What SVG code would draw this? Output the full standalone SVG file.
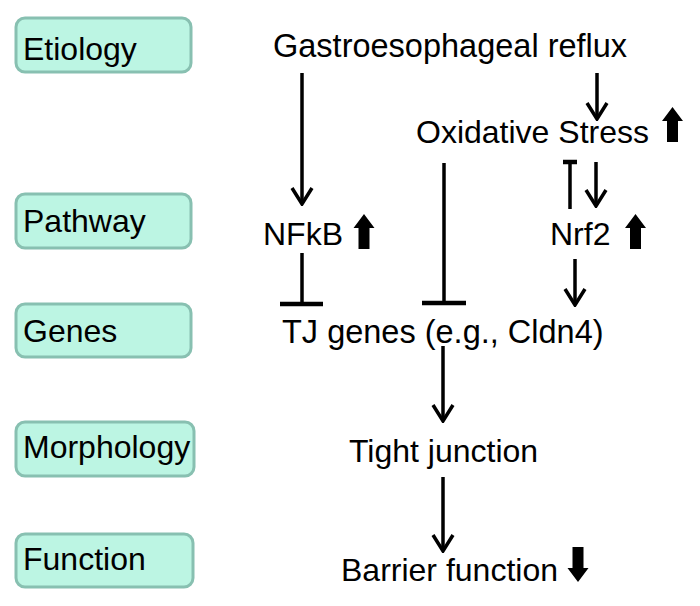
<svg xmlns="http://www.w3.org/2000/svg" width="700" height="606" viewBox="0 0 700 606">
<defs>
<style>
.box{fill:#bcf5e3;stroke:#88c0b1;stroke-width:3}
.t{font-family:"Liberation Sans",Arial,Helvetica,sans-serif;font-size:32px;fill:#000}
.ln{stroke:#000;stroke-width:3.5;fill:none}
.bar{stroke:#000;stroke-width:4.5;fill:none}
.blk{fill:#000}
</style>
<marker id="ah" viewBox="-18 -12 20 24" refX="0" refY="0" markerWidth="20" markerHeight="24" markerUnits="userSpaceOnUse" orient="auto">
<path d="M-16,-10 L0,0 L-16,10" fill="none" stroke="#000" stroke-width="3.5"/>
</marker>
</defs>
<rect width="700" height="606" fill="#fff"/>

<g id="etiology"><rect class="box" x="16" y="18" width="175" height="54" rx="9"/><text class="t" x="23" y="60">Etiology</text></g>
<g id="pathway"><rect class="box" x="16" y="194" width="175" height="54" rx="9"/><text class="t" x="23" y="232">Pathway</text></g>
<g id="genes"><rect class="box" x="16" y="304" width="175" height="53" rx="9"/><text class="t" x="23" y="342">Genes</text></g>
<g id="morphology"><rect class="box" x="16" y="422" width="178" height="54" rx="9"/><text class="t" x="23" y="458">Morphology</text></g>
<g id="function"><rect class="box" x="16" y="534" width="177" height="53" rx="9"/><text class="t" x="23" y="570">Function</text></g>

<g id="reflux"><text class="t" x="273" y="57" style="font-size:32.5px">Gastroesophageal reflux</text></g>
<g id="oxstress"><text class="t" x="416" y="143">Oxidative Stress</text>
<polygon class="blk" points="672.5,107 683,121 678,121 678,142 667,142 667,121 662,121"/></g>
<g id="nfkb"><text class="t" x="263" y="245">NFkB</text>
<polygon class="blk" points="364,214 374.5,228 369.5,228 369.5,249 358.5,249 358.5,228 353.5,228"/></g>
<g id="nrf2"><text class="t" x="550" y="245">Nrf2</text>
<polygon class="blk" points="635.5,214 646,228 641,228 641,249 630,249 630,228 625,228"/></g>
<g id="tjgenes"><text class="t" x="282" y="343" style="font-size:32.5px">TJ genes (e.g., Cldn4)</text></g>
<g id="tightjunction"><text class="t" x="349" y="462">Tight junction</text></g>
<g id="barrier"><text class="t" x="341" y="581">Barrier function</text>
<polygon class="blk" points="578,582 588.5,568 583.5,568 583.5,547 572.5,547 572.5,568 567.5,568"/></g>

<g id="connectors">
<line class="ln" x1="302" y1="73" x2="302" y2="204" marker-end="url(#ah)"/>
<line class="ln" x1="597" y1="73" x2="597" y2="119" marker-end="url(#ah)"/>
<line class="ln" x1="596" y1="162" x2="596" y2="206" marker-end="url(#ah)"/>
<line class="ln" x1="575" y1="259" x2="575" y2="305" marker-end="url(#ah)"/>
<line class="ln" x1="443" y1="346" x2="443" y2="421" marker-end="url(#ah)"/>
<line class="ln" x1="443" y1="477" x2="443" y2="551" marker-end="url(#ah)"/>
<line class="ln" x1="444" y1="163" x2="444" y2="303"/>
<line class="bar" x1="422" y1="303" x2="466" y2="303"/>
<line class="ln" x1="302" y1="253" x2="302" y2="304"/>
<line class="bar" x1="280" y1="304" x2="323" y2="304"/>
<line class="ln" x1="570" y1="209" x2="570" y2="162"/>
<line class="bar" x1="563" y1="162" x2="577" y2="162"/>
</g>
</svg>
